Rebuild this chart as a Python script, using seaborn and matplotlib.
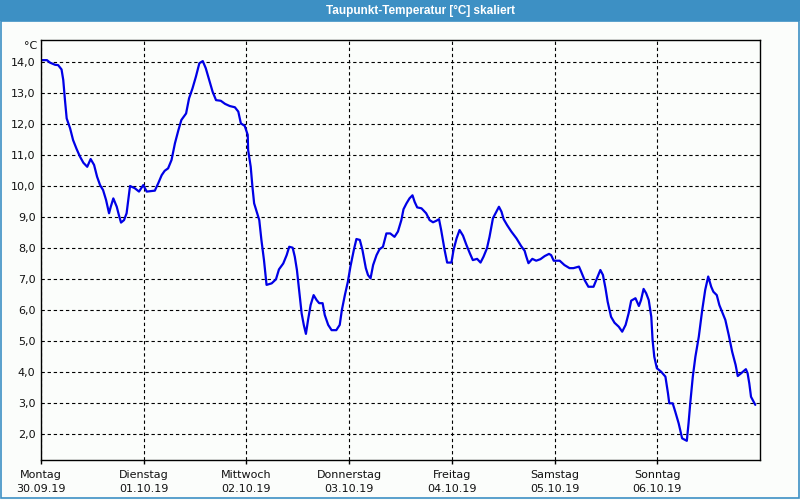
import matplotlib
matplotlib.use("Agg")
import matplotlib.pyplot as plt
import seaborn as sns
import pandas as pd
from matplotlib.patches import Rectangle

# ---- data ----
hours = [0.0, 1.4, 2.1, 3.3, 4.0, 4.8, 5.2, 5.6, 6.0, 6.8, 7.5, 8.3, 9.1, 9.9, 10.8, 11.6,
         12.4, 13.1, 13.8, 14.5, 15.2, 15.9, 16.3, 16.9, 17.7, 18.2, 18.7, 19.4, 20.0, 20.4,
         20.8, 21.9, 22.9, 23.9, 24.7, 26.6, 27.4, 28.2, 28.9,
         29.7, 30.5, 31.3, 32.1, 32.8, 33.9, 34.6, 35.4, 36.2, 37.0, 37.8, 38.5, 39.3, 40.1,
         40.9, 42.0, 43.0, 44.1, 45.3, 46.1, 46.7, 47.6, 48.3, 48.4, 49.0, 49.4, 49.8, 50.4,
         51.0, 51.5, 52.1, 52.7, 53.9, 54.9, 55.6, 56.6,
         57.4, 58.0, 58.8, 59.3, 59.8, 60.3, 60.9, 61.4, 61.9, 62.4, 63.0, 63.7, 64.4, 65.0,
         65.8, 66.3, 67.1, 67.9, 69.0, 69.8, 70.3, 71.0, 71.7, 72.3, 73.1, 73.7, 74.5, 75.1,
         75.9, 76.4, 77.0, 77.6, 78.4, 79.1, 79.9, 80.7, 81.6, 82.6, 83.4, 84.2, 84.7,
         85.4, 86.1, 86.8, 87.3, 87.9, 88.9, 90.0, 90.8, 91.6, 92.4, 93.0, 93.5, 94.3, 94.9,
         95.9, 96.4, 97.1, 97.8, 98.6, 99.4, 100.2, 100.9, 101.9, 102.7, 103.4, 104.2, 104.8,
         105.6, 106.4, 107.0, 107.6, 108.1, 108.9, 109.9, 111.1, 112.2, 113.0,
         113.4, 113.9, 114.8, 115.7, 116.7, 117.7, 118.7, 119.2, 119.8, 121.2, 122.3, 123.5,
         124.4, 125.7, 126.2, 127.0, 127.9, 129.1, 129.9, 130.7, 131.3, 131.9, 132.4, 133.2,
         134.0, 135.0, 135.8, 136.6, 137.3, 137.9, 138.9, 139.7, 140.2, 140.8,
         141.4, 142.0, 142.6, 142.9, 143.3, 143.9, 144.9, 145.9, 146.5, 146.8, 147.6, 148.2,
         149.0, 149.8, 150.9, 151.3, 151.7, 152.3, 152.9, 153.7, 154.5, 155.2, 155.9, 156.6,
         157.1, 157.9, 158.5, 159.3, 159.9, 160.7, 161.5, 162.3, 162.8, 163.6, 164.7, 165.1,
         165.5, 165.9, 166.9]
dewpoint = [14.06, 14.06, 13.98, 13.91, 13.90, 13.76, 13.42, 12.77, 12.18, 11.86, 11.48, 11.20,
            10.95, 10.75, 10.62, 10.87, 10.68, 10.30, 10.03, 9.87, 9.55, 9.12, 9.33, 9.60, 9.33,
            9.06, 8.82, 8.90, 9.12, 9.55, 10.00, 9.93, 9.82, 10.03, 9.82, 9.85, 10.09, 10.35,
            10.49,
            10.57, 10.84, 11.38, 11.80, 12.13, 12.34, 12.83, 13.15, 13.53, 13.96, 14.03, 13.80,
            13.42, 13.04, 12.77, 12.75, 12.65, 12.58, 12.54, 12.40, 12.02, 11.94, 11.65, 11.16,
            10.62, 9.98, 9.44, 9.17, 8.90, 8.26, 7.61, 6.81, 6.86, 6.99, 7.31, 7.50,
            7.77, 8.04, 8.01, 7.72, 7.29, 6.65, 5.89, 5.52, 5.23, 5.68, 6.16, 6.48, 6.32, 6.22,
            6.22, 5.84, 5.52, 5.35, 5.35, 5.52, 6.00, 6.48, 6.91, 7.40, 7.94, 8.29, 8.26, 7.94,
            7.35, 7.13, 7.02, 7.45, 7.77, 7.96, 8.04, 8.47, 8.47, 8.36, 8.53, 8.90, 9.25,
            9.44, 9.60, 9.70, 9.49, 9.31, 9.28, 9.12, 8.90, 8.83, 8.88, 8.93, 8.58, 7.94, 7.53,
            7.53, 7.94, 8.31, 8.58, 8.40, 8.10, 7.83, 7.61, 7.65, 7.53, 7.72, 7.99, 8.36,
            8.96, 9.17, 9.33, 9.17, 8.93, 8.74, 8.53, 8.31, 8.06, 7.91,
            7.72, 7.51, 7.65, 7.59, 7.64, 7.74, 7.81, 7.77, 7.59, 7.59, 7.45, 7.35,
            7.35, 7.40, 7.24, 6.97, 6.75, 6.75, 7.02, 7.29, 7.13, 6.70, 6.27, 5.78,
            5.59, 5.46, 5.30, 5.52, 5.89, 6.30, 6.38, 6.13, 6.32, 6.68,
            6.54, 6.32, 5.78, 5.03, 4.49, 4.12, 4.01, 3.85, 3.31, 2.99, 2.99, 2.72,
            2.34, 1.86, 1.78, 2.34, 2.99, 3.85, 4.49, 5.14, 6.00, 6.65, 7.08, 6.75,
            6.59, 6.48, 6.16, 5.89, 5.68, 5.19, 4.65, 4.23, 3.87, 3.96, 4.09, 3.96,
            3.63, 3.20, 2.94]

day_ticks = [0, 24, 48, 72, 96, 120, 144]
day_names = ["Montag", "Dienstag", "Mittwoch", "Donnerstag", "Freitag", "Samstag", "Sonntag"]
day_dates = ["30.09.19", "01.10.19", "02.10.19", "03.10.19", "04.10.19", "05.10.19", "06.10.19"]
y_ticks = [2, 3, 4, 5, 6, 7, 8, 9, 10, 11, 12, 13, 14]
y_labels = ["2,0", "3,0", "4,0", "5,0", "6,0", "7,0", "8,0", "9,0", "10,0", "11,0", "12,0",
            "13,0", "14,0"]
title = "Taupunkt-Temperatur [°C] skaliert"
unit = "°C"

df = pd.DataFrame({"Stunde": hours, "Taupunkt": dewpoint})

sns.set_theme(style="white")
plt.rcParams["font.family"] = ["DejaVu Sans"]

BG = "#fbfdfb"
FRAME = "#3d90c4"

fig = plt.figure(figsize=(8, 5), dpi=100, facecolor=BG)
ax = fig.add_axes([41 / 800, 1 - 460 / 500, (760 - 41) / 800, (460 - 40) / 500])
ax.set_facecolor(BG)

sns.lineplot(data=df, x="Stunde", y="Taupunkt", ax=ax, color="#0000e6", linewidth=1.6,
             estimator=None, sort=False)

ax.set_xlim(0, 168)
ax.set_ylim(1.161, 14.71)
ax.set_xticks(day_ticks)
ax.set_xticklabels([f"{n}\n{d}" for n, d in zip(day_names, day_dates)], fontsize=8,
                   color="#111111", linespacing=1.5)
ax.set_yticks(y_ticks)
ax.set_yticklabels(y_labels, fontsize=8, color="#111111")
ax.set_xlabel("")
ax.set_ylabel("")
ax.tick_params(axis="x", direction="out", length=3, width=1, color="black", pad=4, bottom=True)
ax.tick_params(axis="y", length=0, pad=4)

ax.grid(True, color="black", linestyle=(0, (3, 2.5)), linewidth=0.8)
for s in ax.spines.values():
    s.set_visible(True)
    s.set_color("black")
    s.set_linewidth(1.0)

# title bar
fig.patches.append(Rectangle((0, 1 - 21 / 500), 1, 21 / 500, transform=fig.transFigure,
                             facecolor=FRAME, edgecolor="none", zorder=0))
fig.text(420 / 800, 1 - 10.5 / 500, title, color="white", fontsize=8.5, fontweight="bold",
         family=["Liberation Sans", "DejaVu Sans"], ha="center", va="center")
# window frame
fig.patches.append(Rectangle((0.5 / 800, 2.5 / 500), 798.5 / 800, 477 / 500,
                             transform=fig.transFigure, facecolor="none", edgecolor=FRAME,
                             linewidth=1.2, zorder=0))
fig.text(31 / 800, 1 - 46 / 500, unit, fontsize=8, color="#111111", ha="center", va="center")

fig.savefig("out.png", dpi=100, facecolor=BG)
